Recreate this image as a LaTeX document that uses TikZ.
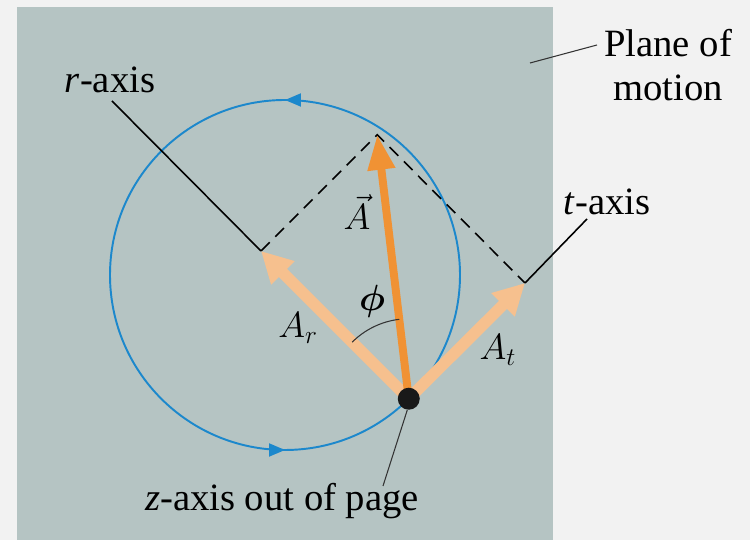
\documentclass[tikz,border=0pt]{standalone}
\usepackage{amsmath}
\usepackage{fontspec}
\setmainfont{Liberation Serif}
\usepackage{tikz}
\usetikzlibrary{arrows.meta,decorations.markings,positioning}

\definecolor{pagegray}{RGB}{242,242,242}
\definecolor{planegray}{RGB}{181,196,195}
\definecolor{orbitblue}{RGB}{28,136,204}
\definecolor{vecorange}{RGB}{240,146,52}
\definecolor{comporange}{RGB}{246,192,142}

\begin{document}
\begin{tikzpicture}[
    font=\rmfamily\fontsize{22}{25}\selectfont,
    axisline/.style={
        black,
        line width=0.9pt
    },
    leader/.style={
        black!80,
        line width=0.6pt
    },
    dashline/.style={
        black,
        line width=0.9pt,
        dash pattern=on 7pt off 4.5pt
    },
    component/.style={
        comporange,
        line width=6.5pt,
        -{Triangle[length=0.62cm,width=0.62cm]}
    },
    vector/.style={
        vecorange,
        line width=4.5pt,
        -{Triangle[length=0.7cm,width=0.52cm]}
    },
    orbit/.style={
        orbitblue,
        line width=1.1pt,
        postaction={decorate},
        decoration={markings,
            mark=at position 0.25 with {\arrow{Triangle[length=0.32cm,width=0.26cm]}},
            mark=at position 0.75 with {\arrow{Triangle[length=0.32cm,width=0.26cm]}}}
    },
    particle/.style={
        circle,
        fill=black!90,
        inner sep=0pt,
        minimum size=0.44cm
    },
    tag/.style={
        inner sep=1pt,
        align=center
    }
]
\useasboundingbox (0,0) rectangle (15,10.8);
% Page and plane of motion
\fill[pagegray] (0,0) rectangle (15,10.8);
\fill[planegray] (0.34,0) rectangle (11.06,10.66);

% Circle of motion
\coordinate (O) at (5.7,5.3);
\draw[orbit] (O) ++(0:3.5) arc[start angle=0, end angle=360, radius=3.5];

% Particle and vector tips
\coordinate (P) at (8.175,2.825);
\coordinate (rtip) at (5.22,5.78);
\coordinate (ttip) at (10.5,5.14);
\coordinate (atip) at (7.545,8.105);
\coordinate (rend) at (2.24,8.78);
\coordinate (tend) at (11.74,6.42);

% Axes
\draw[axisline] (rtip) -- (rend);
\draw[axisline] (ttip) -- (tend);

% Components completing the rectangle
\draw[dashline] (rtip) -- (atip) -- (ttip);

% Vector and its components
\draw[component] (P) -- (rtip);
\draw[component] (P) -- (ttip);
\draw[vector] (P) -- (atip);

% Angle phi
\draw[black!80, line width=0.6pt] (P) ++(135:1.6) arc[start angle=135, end angle=96.8, radius=1.6];

\node[particle] (dot) at (P) {};

% Labels
\node[tag] (rlabel) at (2.2,9.2) {\textit{r}-axis};
\node[tag] (tlabel) at (12.14,6.76) {\textit{t}-axis};
\node[tag] (zlabel) at (5.64,0.78) {\textit{z}-axis out of page};
\node[tag] (plane) at (13.36,9.5) {Plane of\\motion};
\node[tag] (alabel) at (7.14,6.56) {$\vec{A}$};
\node[tag] (arlabel) at (5.96,4.24) {$A_r$};
\node[tag] (atlabel) at (9.96,3.8) {$A_t$};
\node[tag] (philabel) at (7.44,4.78) {$\boldsymbol{\phi}$};

% Leader lines
\coordinate (zend) at (7.66,1.08);
\coordinate (pstart) at (10.6,9.54);
\coordinate (pend) at (11.94,9.9);
\draw[leader] (dot.south) ++(-0.03,0) -- (zend);
\draw[leader] (pstart) -- (pend);
\end{tikzpicture}
\end{document}
